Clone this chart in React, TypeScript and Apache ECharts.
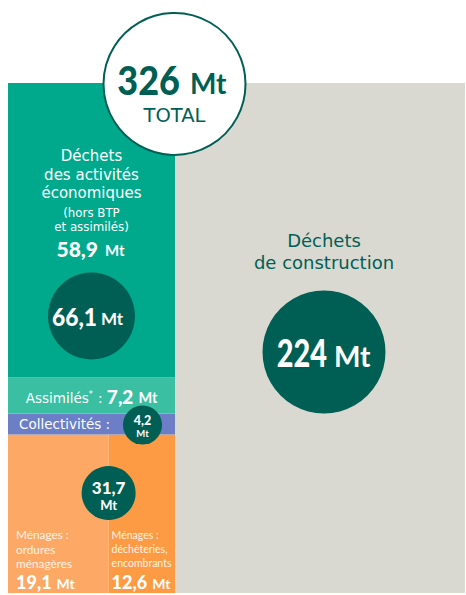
import React, { useEffect, useRef } from "react";
import * as echarts from "echarts";

// ---- Données (millions de tonnes) ----
const menagesCategories = ["Ménages : ordures ménagères", "Ménages : déchèteries, encombrants"];
const menagesValues = [19.1, 12.6];
const collectivitesCategories = ["Collectivités"];
const collectivitesValues = [4.2];
const activitesCategories = ["Assimilés", "Déchets des activités économiques (hors BTP et assimilés)"];
const activitesValues = [7.2, 58.9];
const constructionCategories = ["Déchets de construction"];
const constructionValues = [224];

const sum = (a: number[]) => a.reduce((s, v) => s + v, 0);
const menagesTotal = sum(menagesValues);
const activitesTotal = sum(activitesValues);
const leftTotal = menagesTotal + sum(collectivitesValues) + activitesTotal;
const grandTotal = leftTotal + sum(constructionValues);

const fmt1 = (v: number) => v.toFixed(1).replace(".", ",");
const fmt0 = (v: number) => String(Math.round(v));

// ---- Styles ----
const FONT = "'DejaVu Sans', 'Noto Sans', sans-serif";
const NUMFONT = "Lato, 'Noto Sans', sans-serif";
const DARK = "#005F55";
const WHITE = "#ffffff";
const COLORS: Record<string, string> = {
  men0: "#FDA865",
  men1: "#FD9A44",
  coll: "#6B7EC6",
  assim: "#3BBFA2",
  dae: "#00A98C",
  constr: "#D9D9D1",
};

type Cell = { key: string; name: string; value: number[] };

// cells of the left column, stacked from the bottom
const leftCells: Cell[] = [];
(() => {
  let y = 0;
  let x = 0;
  menagesValues.forEach((v, i) => {
    leftCells.push({ key: "men" + i, name: menagesCategories[i], value: [x, x + v, y, y + menagesTotal] });
    x += v;
  });
  y += menagesTotal;
  leftCells.push({ key: "coll", name: collectivitesCategories[0], value: [0, menagesTotal, y, y + collectivitesValues[0]] });
  y += collectivitesValues[0];
  leftCells.push({ key: "assim", name: activitesCategories[0], value: [0, menagesTotal, y, y + activitesValues[0]] });
  y += activitesValues[0];
  leftCells.push({ key: "dae", name: activitesCategories[1], value: [0, menagesTotal, y, y + activitesValues[1]] });
})();

const txt = (
  x: number, y: number, text: string, size: number, fill: string,
  opts: { weight?: any; align?: string; z2?: number; lineHeight?: number; family?: string } = {}
) => ({
  type: "text",
  x,
  y,
  z2: opts.z2 ?? 5,
  style: {
    text,
    fill,
    fontSize: size,
    fontFamily: opts.family ?? FONT,
    fontWeight: opts.weight ?? "normal",
    align: opts.align ?? "center",
    verticalAlign: "middle",
    lineHeight: opts.lineHeight ?? Math.round(size * 1.2),
  },
});

// number (right-aligned, condensed) + "Mt" (left-aligned), sharing a baseline
const numPair = (
  cx: number, cy: number, num: string, big: number, small: number, fill: string,
  rightOff: number, gap: number, scale: number, z2 = 12
) => [
  {
    type: "text",
    x: cx + rightOff,
    y: cy,
    z2,
    scaleX: scale,
    style: { text: num, fill, fontSize: big, fontWeight: 900, fontFamily: NUMFONT, align: "right", verticalAlign: "middle" },
  },
  {
    type: "text",
    x: cx + rightOff + gap,
    y: cy + 0.3 * (big - small),
    z2,
    style: { text: "Mt", fill, fontSize: small, fontWeight: "bold", fontFamily: NUMFONT, align: "left", verticalAlign: "middle" },
  },
];

const twoLineNum = (cx: number, cy: number, num: string, big: number, small: number, lhA: number, lhB: number) => ({
  type: "text",
  x: cx,
  y: cy,
  z2: 12,
  style: {
    text: `{a|${num}}\n{b|Mt}`,
    align: "center",
    verticalAlign: "middle",
    fontFamily: NUMFONT,
    rich: {
      a: { fontSize: big, fontWeight: 900, fill: WHITE, fontFamily: NUMFONT, lineHeight: lhA, align: "center" },
      b: { fontSize: small, fontWeight: "bold", fill: WHITE, fontFamily: NUMFONT, lineHeight: lhB, align: "center" },
    },
  },
});

const circ = (cx: number, cy: number, r: number, fill: string, stroke?: string, lineWidth = 0) => ({
  type: "circle",
  z2: 10,
  shape: { cx, cy, r },
  style: { fill, stroke, lineWidth },
});

function renderLeft(params: any, api: any) {
  const cell = leftCells[params.dataIndex];
  const p0 = api.coord([api.value(0), api.value(3)]);
  const p1 = api.coord([api.value(1), api.value(2)]);
  const x = p0[0];
  const y = p0[1];
  const w = p1[0] - p0[0];
  const h = p1[1] - p0[1];
  const cx = x + w / 2;
  const children: any[] = [{ type: "rect", shape: { x, y, width: w, height: h }, style: { fill: COLORS[cell.key] } }];
  if (cell.key === "dae") {
    children.push(txt(cx, y + 91.5, "Déchets\ndes activités\néconomiques", 15, WHITE, { lineHeight: 18.5 }));
    children.push(txt(cx, y + 137, "(hors BTP\net assimilés)", 11.8, WHITE, { lineHeight: 14 }));
    children.push(...numPair(cx, y + 165.5, fmt1(activitesValues[1]), 21, 15, WHITE, 6.5, 7, 1, 6));
    children.push(circ(cx, y + 233, 43.5, DARK));
    children.push(...numPair(cx, y + 233.5, fmt1(activitesTotal), 24, 17, WHITE, 5.5, 4, 0.95));
  } else if (cell.key === "assim") {
    children.push({
      type: "text",
      x: cx,
      y: y + h / 2,
      z2: 6,
      style: {
        text: `{r|Assimilés}{s|*}{r| : }{b|${fmt1(activitesValues[0])}}{m|Mt}`,
        align: "center",
        verticalAlign: "middle",
        fontFamily: FONT,
        rich: {
          r: { fontSize: 13.5, fill: WHITE, fontFamily: FONT, lineHeight: 20, verticalAlign: "bottom", padding: [0, 0, 1, 0] },
          s: { fontSize: 8, fill: WHITE, fontFamily: FONT, lineHeight: 20, verticalAlign: "bottom", padding: [0, 1, 7, 0] },
          b: { fontSize: 19, fontWeight: 900, fill: WHITE, fontFamily: NUMFONT, lineHeight: 20, verticalAlign: "bottom" },
          m: { fontSize: 14.5, fontWeight: "bold", fill: WHITE, fontFamily: NUMFONT, lineHeight: 20, verticalAlign: "bottom", padding: [0, 0, 1, 5] },
        },
      },
    });
  } else if (cell.key === "coll") {
    const cy = y + h / 2;
    children.push(txt(x + 11, cy, "Collectivités :", 13.5, WHITE, { align: "left" }));
    children.push(circ(x + 134.5, cy + 1, 19.5, DARK));
    children.push(twoLineNum(x + 134.5, cy + 2, fmt1(collectivitesValues[0]), 12.5, 9.5, 15.2, 11.6));
  } else if (cell.key === "men0" || cell.key === "men1") {
    const bottom = y + h;
    const left = cell.key === "men0";
    const tx = left ? x + 8 : x + 3;
    const L = "#FFF4E8";
    const text = left ? "Ménages :\nordures\nménagères" : "Ménages :\ndéchèteries,\nencombrants";
    children.push(txt(tx, bottom - 44, text, left ? 11.8 : 10.5, L, { align: "left", lineHeight: 14.3, family: NUMFONT }));
    const i = left ? 0 : 1;
    children.push({
      type: "text",
      x: tx,
      y: bottom - 11,
      z2: 6,
      style: {
        text: `{a|${fmt1(menagesValues[i])}}{b|Mt}`,
        align: "left",
        verticalAlign: "middle",
        fontFamily: NUMFONT,
        rich: {
          a: { fontSize: 18, fontWeight: 900, fill: WHITE, fontFamily: NUMFONT, lineHeight: 18, verticalAlign: "bottom" },
          b: { fontSize: 14, fontWeight: "bold", fill: WHITE, fontFamily: NUMFONT, lineHeight: 14, verticalAlign: "bottom", padding: [0, 0, 1, 5] },
        },
      },
    });
    if (!left) {
      children.push(circ(x, bottom - 100, 27, DARK));
      children.push(twoLineNum(x, bottom - 98, fmt1(menagesTotal), 17, 13, 20.6, 15.8));
    }
  }
  return { type: "group", children };
}

function renderConstruction(params: any, api: any) {
  const top = api.coord([api.value(0), api.value(1)]);
  const base = api.coord([api.value(0), 0]);
  const bw = api.size([1, 0])[0];
  const x = top[0] - bw / 2;
  const y = top[1];
  const h = base[1] - top[1];
  const cx = x + bw / 2 + 4;
  const tx = x - 0.5; // total badge on the boundary between both columns
  const children: any[] = [
    { type: "rect", shape: { x, y, width: bw, height: h }, style: { fill: COLORS.constr } },
    txt(cx, y + 168, "Déchets\nde construction", 18, DARK, { lineHeight: 22 }),
    circ(cx, y + 269, 61.5, DARK),
    ...numPair(cx, y + 270, fmt0(api.value(1)), 37, 28, WHITE, 3, 7, 0.78),
    circ(tx, y + 1, 71, WHITE, DARK, 2),
    ...numPair(tx, y - 4, fmt0(grandTotal), 40, 28, DARK, 5.5, 10, 0.9),
    txt(tx, y + 32.5, "TOTAL", 19.5, DARK, { z2: 12 }),
  ];
  return { type: "group", children };
}

export default function App() {
  const ref = useRef<HTMLDivElement>(null);
  useEffect(() => {
    const chart = echarts.init(ref.current as HTMLDivElement, null, { renderer: "svg" });
    chart.setOption({
      animation: false,
      backgroundColor: "#ffffff",
      grid: [
        { left: 8, top: 83, width: 167, height: 510 },
        { left: 175, top: 83, width: 290, height: 510 },
      ],
      xAxis: [
        { type: "value", gridIndex: 0, min: 0, max: menagesTotal, show: false },
        { type: "category", gridIndex: 1, data: constructionCategories, show: false },
      ],
      yAxis: [
        { type: "value", gridIndex: 0, min: 0, max: leftTotal, show: false },
        { type: "value", gridIndex: 1, min: 0, max: sum(constructionValues), show: false },
      ],
      series: [
        {
          type: "custom",
          xAxisIndex: 0,
          yAxisIndex: 0,
          clip: false,
          renderItem: renderLeft,
          data: leftCells.map((c) => ({ name: c.name, value: c.value })),
          z: 2,
        },
        {
          type: "custom",
          xAxisIndex: 1,
          yAxisIndex: 1,
          clip: false,
          renderItem: renderConstruction,
          data: constructionValues.map((v, i) => ({ name: constructionCategories[i], value: [i, v] })),
          z: 3,
        },
      ],
    });
    return () => chart.dispose();
  }, []);
  return <div ref={ref} style={{ position: "absolute", left: 0, top: 0, width: 466, height: 595 }} />;
}
